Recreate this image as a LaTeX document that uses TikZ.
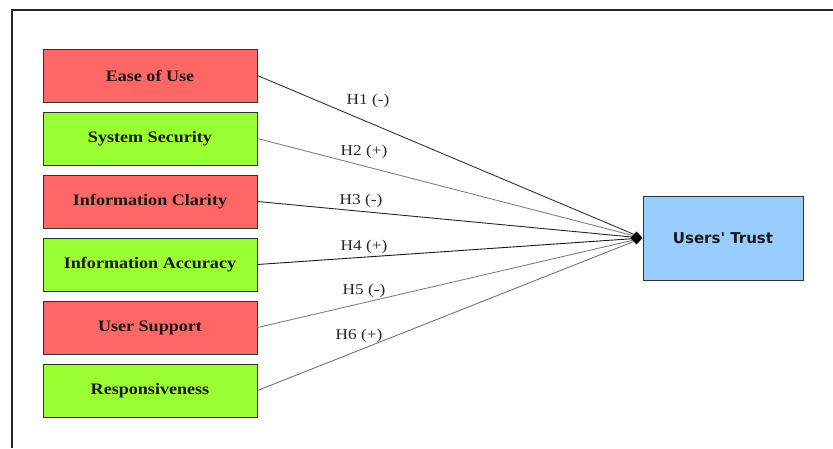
\documentclass[tikz,border=0pt]{standalone}
\usepackage{fontspec}
\newfontfamily\boxfont[FakeStretch=1.13]{Liberation Serif}
\newfontfamily\hypfont[FakeStretch=1.15]{Liberation Serif}
\newfontfamily\trustfont{DejaVu Sans}
\definecolor{neg}{HTML}{FF6666}
\definecolor{pos}{HTML}{99FF33}
\definecolor{trust}{HTML}{99CCFF}
\definecolor{edgeline}{HTML}{333333}
\tikzset{
  factor/.style={draw=edgeline, line width=0.9pt, minimum width=214pt, minimum height=53pt,
    inner sep=0pt, font=\boxfont\fontsize{16}{18}\selectfont\bfseries, text=black!90},
  outcome/.style={draw=edgeline, line width=0.9pt, fill=trust, minimum width=160pt, minimum height=84pt,
    inner sep=0pt, font=\trustfont\fontsize{15}{17}\selectfont\bfseries, text=black!90},
  hyp/.style={font=\hypfont\fontsize{15}{17}\selectfont, text=black!85, inner sep=0pt},
  link/.style={line width=0.9pt, shorten >=6pt},
}
\begin{document}
\begin{tikzpicture}[x=1pt,y=-1pt]
\useasboundingbox (0,0) rectangle (833,448);
% outer frame
\draw[line width=2pt, black!85] (11.5,448) -- (11.5,9.5) -- (840,9.5);

% predictor boxes
\node[factor, fill=neg] (eou) at (150,75.5) {Ease of Use};
\node[factor, fill=pos] (sec) at (150,138.5) {System Security};
\node[factor, fill=neg] (cla) at (150,201.5) {Information Clarity};
\node[factor, fill=pos] (acc) at (150,264.5) {Information Accuracy};
\node[factor, fill=neg] (sup) at (150,327.5) {User Support};
\node[factor, fill=pos] (res) at (150,390.5) {Responsiveness};

% outcome
\node[outcome] (ut) at (723,238) {Users' Trust};

% hypothesised paths
\draw[link, black!80] (eou.east) -- (ut.west);
\draw[link, black!50] (sec.east) -- (ut.west);
\draw[link, black!85] (cla.east) -- (ut.west);
\draw[link, black!90] (acc.east) -- (ut.west);
\draw[link, black!50] (sup.east) -- (ut.west);
\draw[link, black!55] (res.east) -- (ut.west);

% shared diamond head where the paths meet
\fill[black] (ut.west) -- ++(-6,-6.5) -- ++(-6,6.5) -- ++(6,6.5) -- cycle;

% path labels
\node[hyp] (h1) at (368,101) {H1 (-)};
\node[hyp] (h2) at (364,152) {H2 (+)};
\node[hyp] (h3) at (361,201) {H3 (-)};
\node[hyp] (h4) at (364,247) {H4 (+)};
\node[hyp] (h5) at (364,291) {H5 (-)};
\node[hyp] (h6) at (359,336) {H6 (+)};
\end{tikzpicture}
\end{document}
